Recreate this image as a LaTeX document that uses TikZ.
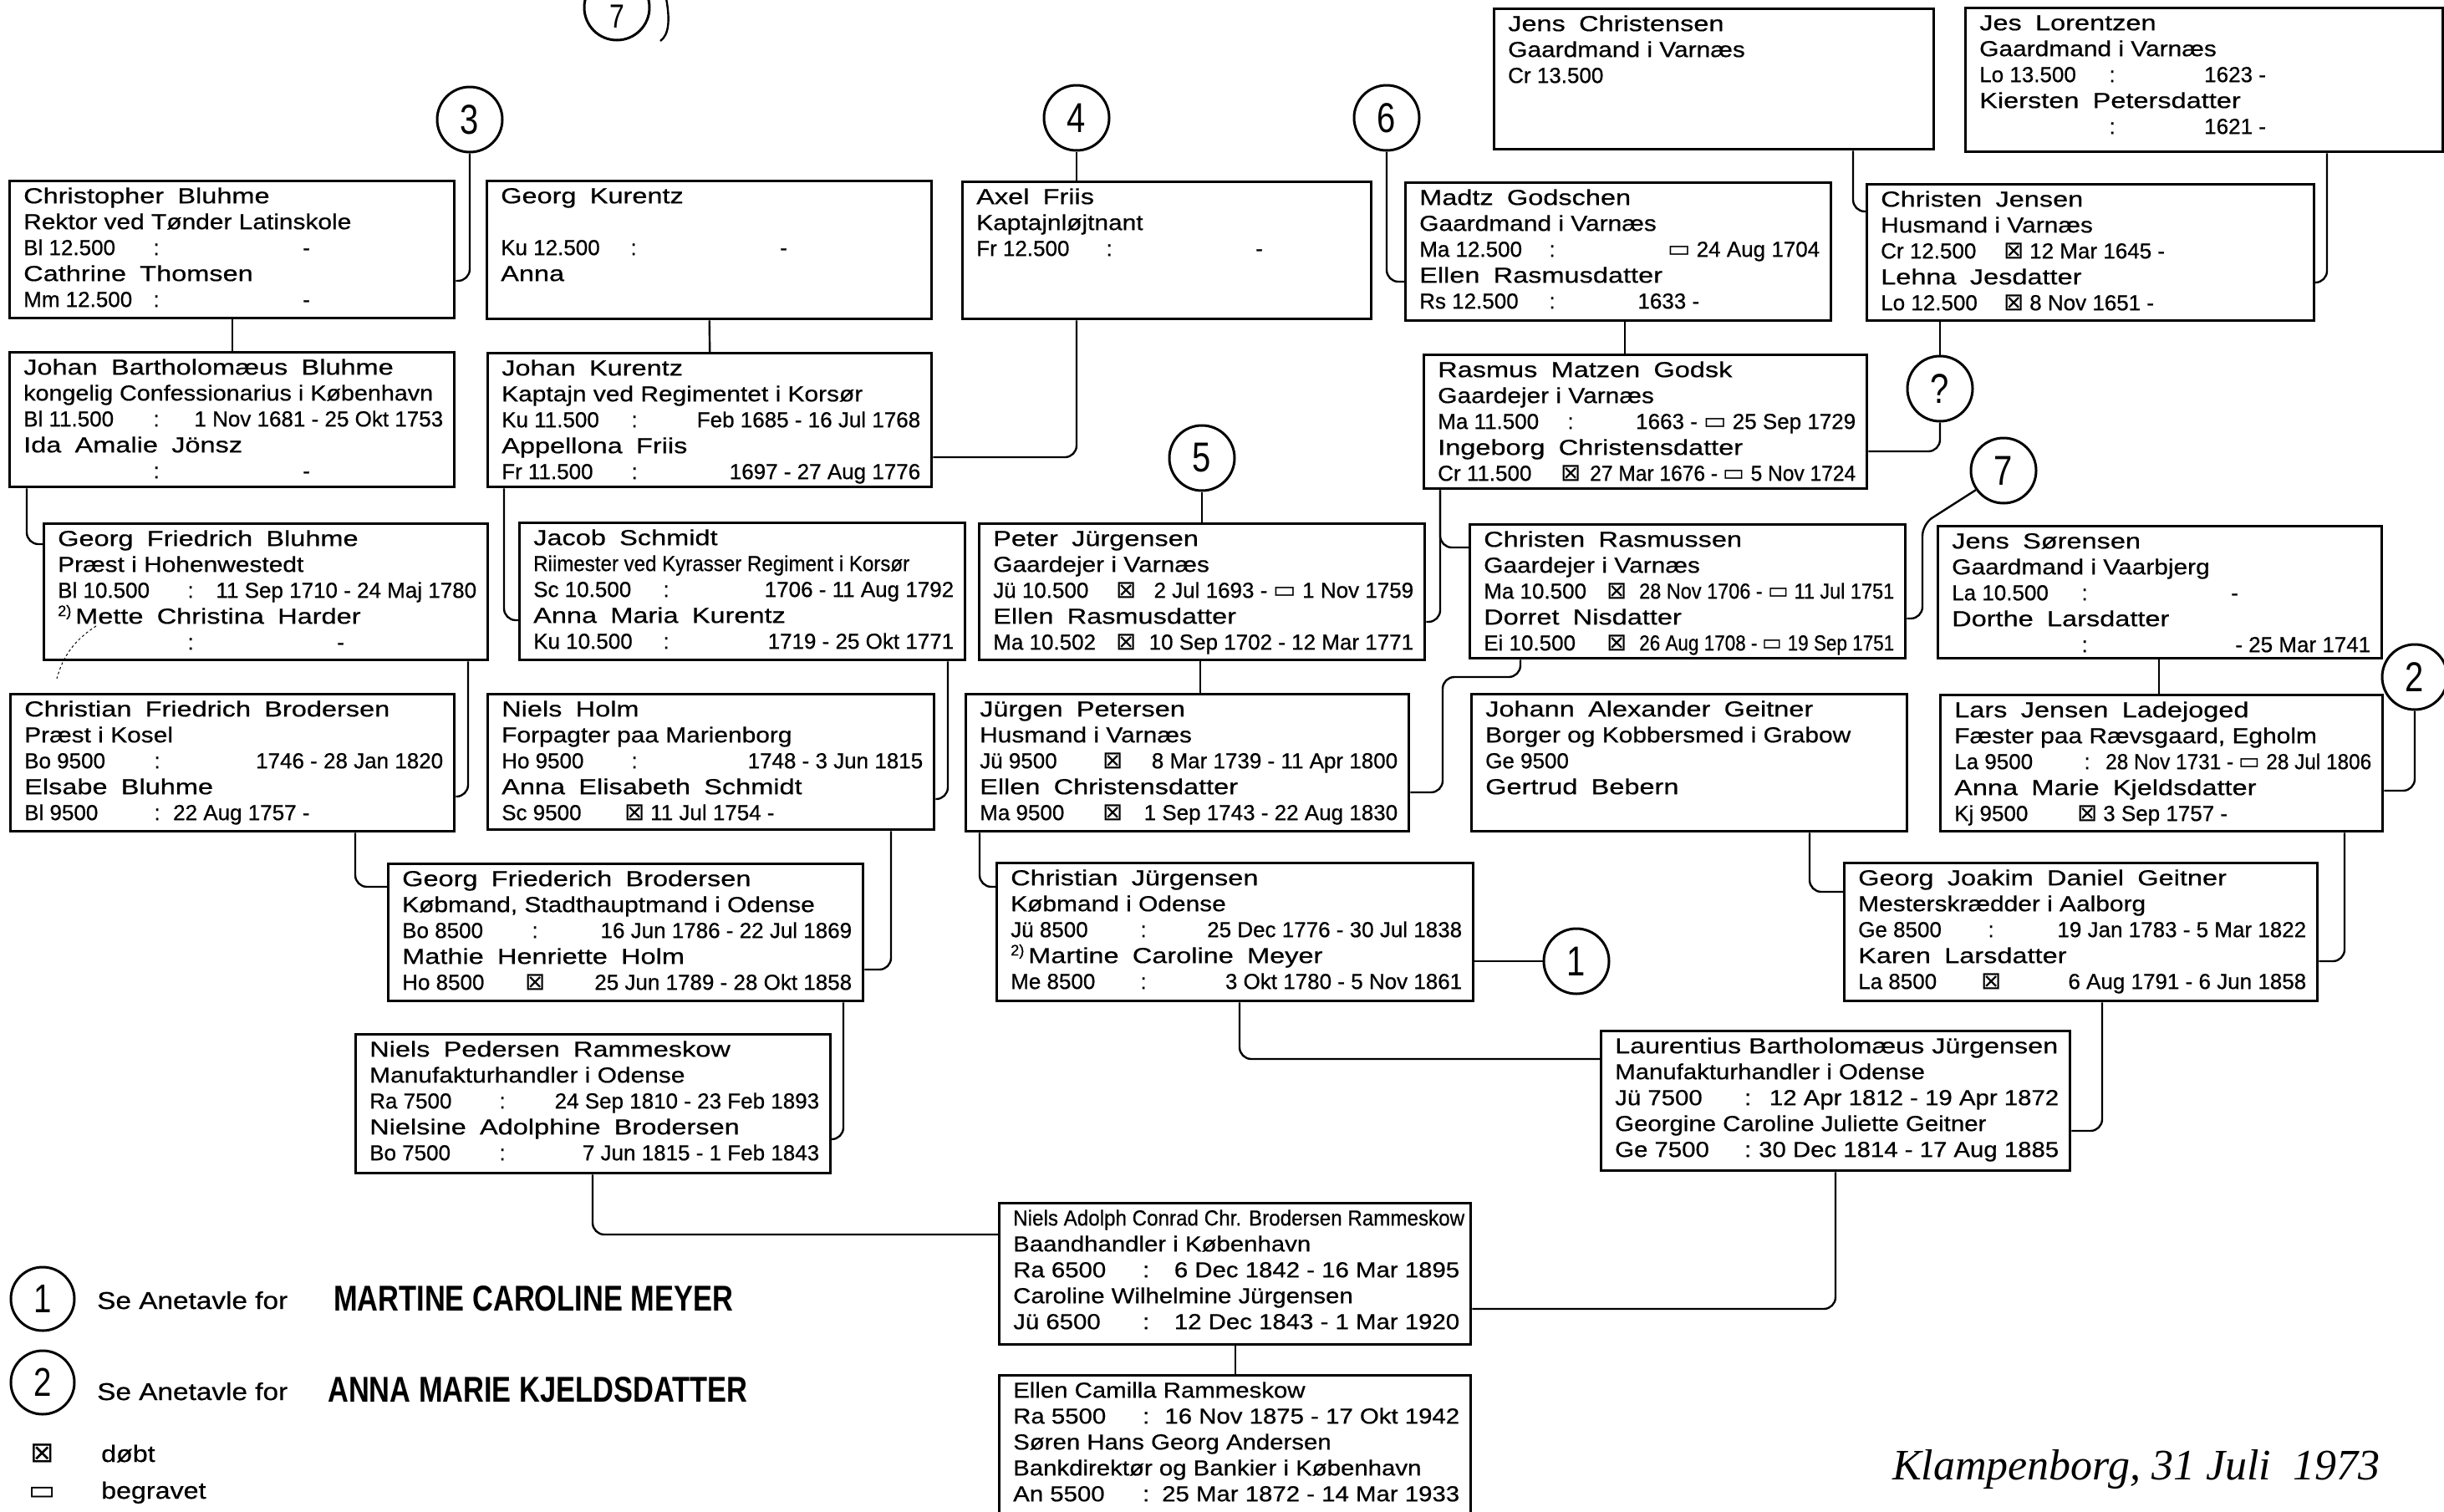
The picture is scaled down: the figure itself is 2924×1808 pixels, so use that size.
\documentclass[tikz,border=0pt]{standalone}
\usepackage{fontspec}
\usepackage{graphicx}
\setmainfont[FakeBold=0.6]{Liberation Sans}
\newfontfamily\nmfont[FakeStretch=1.25,WordSpace=1.8,FakeBold=0.6]{Liberation Sans}
\newfontfamily\ocfont[FakeStretch=1.15,FakeBold=0.6]{Liberation Sans}
\newfontfamily\wdfont[FakeStretch=1.13,FakeBold=0.6]{Liberation Sans}
\newfontfamily\legfont[FakeStretch=0.8]{Liberation Sans}
\newfontfamily\symf{DejaVu Sans}
\newfontfamily\scriptf{Liberation Serif}
\newlength\dw
\newsavebox\rbox
\newcommand\nm[1]{{\nmfont #1}}
\newcommand\oc[1]{{\ocfont #1}}
\newcommand\bap{{\symf\fontsize{29}{29}\selectfont ⊠}}
\newcommand\bur{{\symf\fontsize{29}{29}\selectfont ▭}}
\newcommand\dlr[3]{\sbox\rbox{#3}%
  \ifdim\wd\rbox>\dimexpr\dw-172pt\relax
    \sbox\rbox{\resizebox{\dimexpr\dw-172pt\relax}{\height}{#3}}\fi
  \makebox[\dw][l]{\makebox[150pt][l]{#1}\makebox[18pt][c]{#2}\hfill\usebox\rbox}}
\newcommand\dlf[3]{\makebox[150pt][l]{#1}\makebox[18pt][c]{#2}\hspace{10pt}#3}
\newcommand\fitw[2]{\resizebox{#1pt}{\height}{#2}}
\tikzset{
  pbox/.style={rectangle, draw, line width=3.4pt, anchor=north west, inner sep=0pt},
  ptext/.style={anchor=north west, inner sep=0pt, align=left,
    execute at begin node={\global\dw=#1pt\global\advance\dw by -30pt}},
  conn/.style={line width=2.4pt, rounded corners=14pt},
  circ/.style={circle, draw, line width=3pt, minimum size=78pt, inner sep=0pt,
    font=\legfont\fontsize{50}{50}\selectfont},
}
\newcommand\famnode[7]{%
  \node[pbox, minimum width=#4pt, minimum height=#5pt] (#1) at (#2,#3) {};
  \node[ptext=#4, font={#6\fontsize{26}{31}\selectfont}] (#1-t)
     at ([shift={(18pt,-9pt)}]#1.north west) {\rule{0pt}{19pt}#7};
}
\begin{document}
\begin{tikzpicture}[x=1pt,y=-1pt]
\fill[white] (0,0) rectangle (2924,1808);
\useasboundingbox (0,0) rectangle (2924,1808);

% ---------- boxes ----------
\famnode{cb}{10}{215}{532}{164}{}{\nm{Christopher Bluhme}\\ \oc{Rektor ved Tønder Latinskole}\\ \dlf{Bl 12.500}{:}{\hspace{6em}-}\\ \nm{Cathrine Thomsen}\\ \dlf{Mm 12.500}{:}{\hspace{6em}-}}
\famnode{jbb}{10}{420}{532}{161}{}{\nm{Johan Bartholomæus Bluhme}\\ \fitw{490}{\oc{kongelig Confessionarius i København}}\\ \dlr{Bl 11.500}{:}{1 Nov 1681 - 25 Okt 1753}\\ \nm{Ida Amalie Jönsz}\\ \dlf{}{:}{\hspace{6em}-}}
\famnode{gk}{581}{215}{532}{165}{}{\nm{Georg Kurentz}\\ \mbox{}\\ \dlf{Ku 12.500}{:}{\hspace{6em}-}\\ \nm{Anna}}
\famnode{jk}{582}{421}{531}{160}{}{\nm{Johan Kurentz}\\ \oc{Kaptajn ved Regimentet i Korsør}\\ \dlr{Ku 11.500}{:}{Feb 1685 - 16 Jul 1768}\\ \nm{Appellona Friis}\\ \dlr{Fr 11.500}{:}{1697 - 27 Aug 1776}}
\famnode{af}{1150}{216}{489}{164}{}{\nm{Axel Friis}\\ \oc{Kaptajnløjtnant}\\ \dlf{Fr 12.500}{:}{\hspace{6em}-}}
\famnode{mg}{1680}{217}{509}{165}{}{\nm{Madtz Godschen}\\ \oc{Gaardmand i Varnæs}\\ \dlr{Ma 12.500}{:}{\bur\ 24 Aug 1704}\\ \nm{Ellen Rasmusdatter}\\ \dlf{Rs 12.500}{:}{\hspace{3.2em}1633 -}}
\famnode{jc}{1786}{9}{526}{168}{}{\nm{Jens Christensen}\\ \oc{Gaardmand i Varnæs}\\ Cr 13.500}
\famnode{jl}{2350}{8}{571}{172}{}{\nm{Jes Lorentzen}\\ \oc{Gaardmand i Varnæs}\\ \dlf{Lo 13.500}{:}{\hspace{3.5em}1623 -}\\ \nm{Kiersten Petersdatter}\\ \dlf{}{:}{\hspace{3.5em}1621 -}}
\famnode{cj}{2232}{219}{535}{163}{}{\nm{Christen Jensen}\\ \oc{Husmand i Varnæs}\\ \dlf{Cr 12.500}{\bap}{12 Mar 1645 -}\\ \nm{Lehna Jesdatter}\\ \dlf{Lo 12.500}{\bap}{8 Nov 1651 -}}
\famnode{rm}{1702}{423}{530}{160}{}{\nm{Rasmus Matzen Godsk}\\ \oc{Gaardejer i Varnæs}\\ \dlr{Ma 11.500}{:}{1663 - \bur\ 25 Sep 1729}\\ \nm{Ingeborg Christensdatter}\\ \dlr{Cr 11.500}{\bap}{\fitw{318}{27 Mar 1676 - \bur\ 5 Nov 1724}}}
\famnode{gfb}{51}{625}{531}{163}{}{\nm{Georg Friedrich Bluhme}\\ \oc{Præst i Hohenwestedt}\\ \dlr{Bl 10.500}{:}{11 Sep 1710 - 24 Maj 1780}\\ \textsuperscript{2)}\,\nm{Mette Christina Harder}\\ \dlf{}{:}{\hspace{6em}-}}
\famnode{js}{620}{624}{533}{164}{}{\nm{Jacob Schmidt}\\ \fitw{450}{\oc{Riimester ved Kyrasser Regiment i Korsør}}\\ \dlr{Sc 10.500}{:}{1706 - 11 Aug 1792}\\ \nm{Anna Maria Kurentz}\\ \dlr{Ku 10.500}{:}{1719 - 25 Okt 1771}}
\famnode{pj}{1170}{625}{533}{163}{}{\nm{Peter Jürgensen}\\ \oc{Gaardejer i Varnæs}\\ \dlr{Jü 10.500}{\bap}{2 Jul 1693 - \bur\ 1 Nov 1759}\\ \nm{Ellen Rasmusdatter}\\ \dlr{Ma 10.502}{\bap}{10 Sep 1702 - 12 Mar 1771}}
\famnode{cr}{1757}{626}{521}{160}{}{\nm{Christen Rasmussen}\\ \oc{Gaardejer i Varnæs}\\ \dlr{Ma 10.500}{\bap}{\fitw{305}{28 Nov 1706 - \bur\ 11 Jul 1751}}\\ \nm{Dorret Nisdatter}\\ \dlr{Ei 10.500}{\bap}{\fitw{305}{26 Aug 1708 - \bur\ 19 Sep 1751}}}
\famnode{jso}{2317}{628}{531}{158}{}{\nm{Jens Sørensen}\\ \oc{Gaardmand i Vaarbjerg}\\ \dlf{La 10.500}{:}{\hspace{6em}-}\\ \nm{Dorthe Larsdatter}\\ \dlr{}{:}{- 25 Mar 1741}}
\famnode{cfb}{11}{829}{531}{164}{}{\nm{Christian Friedrich Brodersen}\\ \oc{Præst i Kosel}\\ \dlr{Bo 9500}{:}{1746 - 28 Jan 1820}\\ \nm{Elsabe Bluhme}\\ \dlf{Bl 9500}{:}{22 Aug 1757 -}}
\famnode{nh}{582}{829}{534}{162}{}{\nm{Niels Holm}\\ \oc{Forpagter paa Marienborg}\\ \dlr{Ho 9500}{:}{1748 - 3 Jun 1815}\\ \nm{Anna Elisabeth Schmidt}\\ \dlf{Sc 9500}{\bap}{11 Jul 1754 -}}
\famnode{jp}{1154}{829}{530}{164}{}{\nm{Jürgen Petersen}\\ \oc{Husmand i Varnæs}\\ \dlr{Jü 9500}{\bap}{8 Mar 1739 - 11 Apr 1800}\\ \nm{Ellen Christensdatter}\\ \dlr{Ma 9500}{\bap}{1 Sep 1743 - 22 Aug 1830}}
\famnode{jag}{1759}{829}{521}{164}{}{\nm{Johann Alexander Geitner}\\ \oc{Borger og Kobbersmed i Grabow}\\ Ge 9500\\ \nm{Gertrud Bebern}}
\famnode{ljl}{2320}{830}{529}{163}{}{\nm{Lars Jensen Ladejoged}\\ \oc{Fæster paa Rævsgaard, Egholm}\\ \dlr{La 9500}{:}{\fitw{318}{28 Nov 1731 - \bur\ 28 Jul 1806}}\\ \nm{Anna Marie Kjeldsdatter}\\ \dlf{Kj 9500}{\bap}{3 Sep 1757 -}}
\famnode{gfbr}{463}{1032}{568}{164}{}{\nm{Georg Friederich Brodersen}\\ \oc{Købmand, Stadthauptmand i Odense}\\ \dlr{Bo 8500}{:}{16 Jun 1786 - 22 Jul 1869}\\ \nm{Mathie Henriette Holm}\\ \dlr{Ho 8500}{\bap}{25 Jun 1789 - 28 Okt 1858}}
\famnode{chj}{1191}{1031}{570}{165}{}{\nm{Christian Jürgensen}\\ \oc{Købmand i Odense}\\ \dlr{Jü 8500}{:}{25 Dec 1776 - 30 Jul 1838}\\ \textsuperscript{2)}\,\nm{Martine Caroline Meyer}\\ \dlr{Me 8500}{:}{3 Okt 1780 - 5 Nov 1861}}
\famnode{gjd}{2205}{1031}{566}{165}{}{\nm{Georg Joakim Daniel Geitner}\\ \oc{Mesterskrædder i Aalborg}\\ \dlr{Ge 8500}{:}{19 Jan 1783 - 5 Mar 1822}\\ \nm{Karen Larsdatter}\\ \dlr{La 8500}{\bap}{6 Aug 1791 - 6 Jun 1858}}
\famnode{npr}{424}{1236}{568}{166}{}{\nm{Niels Pedersen Rammeskow}\\ \oc{Manufakturhandler i Odense}\\ \dlr{Ra 7500}{:}{24 Sep 1810 - 23 Feb 1893}\\ \nm{Nielsine Adolphine Brodersen}\\ \dlr{Bo 7500}{:}{7 Jun 1815 - 1 Feb 1843}}
\famnode{lbj}{1914}{1232}{561}{167}{\wdfont}{\fitw{530}{Laurentius Bartholomæus Jürgensen}\\ Manufakturhandler i Odense\\ \dlr{Jü 7500}{:}{12 Apr 1812 - 19 Apr 1872}\\ Georgine Caroline Juliette Geitner\\ \dlr{Ge 7500}{:}{30 Dec 1814 - 17 Aug 1885}}
\famnode{nac}{1194}{1438}{564}{169}{\wdfont}{\fitw{540}{Niels Adolph Conrad Chr. Brodersen Rammeskow}\\ Baandhandler i København\\ \dlr{Ra 6500}{:}{6 Dec 1842 - 16 Mar 1895}\\ Caroline Wilhelmine Jürgensen\\ \dlr{Jü 6500}{:}{12 Dec 1843 - 1 Mar 1920}}
\famnode{ecr}{1194}{1644}{564}{180}{\wdfont}{Ellen Camilla Rammeskow\\ \dlr{Ra 5500}{:}{16 Nov 1875 - 17 Okt 1942}\\ Søren Hans Georg Andersen\\ Bankdirektør og Bankier i København\\ \dlr{An 5500}{:}{25 Mar 1872 - 14 Mar 1933}}

% ---------- circles ----------
\node[circ] (ct) at (738,9) {};
\node[inner sep=0pt, font=\legfont\fontsize{40}{40}\selectfont] (ctd) at (738,20) {7};
\node[circ] (c3) at (562,143) {3};
\node[circ] (c4) at (1288,141) {4};
\node[circ] (c6) at (1659,141) {6};
\node[circ] (c5) at (1438,548) {5};
\node[circ] (cq) at (2321,465) {?};
\node[circ] (c7) at (2397,563) {7};
\node[circ] (c2) at (2889,810) {2};
\node[circ] (c1) at (1886,1150) {1};
\draw[line width=2.4pt] (797,-2) .. controls (802,25) and (800,42) .. (790,49);

% ---------- connectors ----------
\coordinate (k7) at (2300,627);
\coordinate (k8) at (1726,810);
\draw[conn] (c3.south) |- (cb.east |- 0,336);
\draw[conn] (cb.south) -- (jbb.north);
\draw[conn] (jbb.south west -| 32,0) |- (gfb.west |- 0,651);
\draw[conn] (gk.south) -- (jk.north);
\draw[conn] (jk.south west -| 603,0) |- (js.west |- 0,742);
\draw[conn] (c4.south) -- (c4.south |- af.north);
\draw[conn] (af.south -| c4) |- (jk.east |- 0,547);
\draw[conn] (c6.south) |- (mg.west |- 0,337);
\draw[conn] (mg.south -| 1944,0) -- (rm.north -| 1944,0);
\draw[conn] (jc.south -| 2217,0) |- (cj.west |- 0,253);
\draw[conn] (jl.south -| 2784,0) |- (cj.east |- 0,338);
\draw[conn] (cj.south -| cq) -- (cq.north);
\draw[conn] (cq.south) |- (rm.east |- 0,540);
\draw[conn] (rm.south -| 1723,0) |- (pj.east |- 0,744);
\draw[conn] (rm.south -| 1723,0) |- (cr.west |- 0,655);
\draw[conn] (c5.south) -- (pj.north -| c5);
\draw[conn] (pj.south -| 1436,0) -- (jp.north -| 1436,0);
\draw[conn] (c7.215) -- (k7) |- (cr.east |- 0,740);
\draw[conn] (cr.south -| 1819,0) |- (k8) |- (jp.east |- 0,948);
\draw[conn] (jso.south -| 2583,0) -- (ljl.north -| 2583,0);
\draw[conn] (c2.south) |- (ljl.east |- 0,946);
\draw[conn] (ljl.south -| 2805,0) |- (gjd.east |- 0,1150);
\draw[conn] (jag.south -| 2165,0) |- (gjd.west |- 0,1067);
\draw[conn] (gfb.south -| 560,0) |- (cfb.east |- 0,953);
\draw[conn] (js.south -| 1134,0) |- (nh.east |- 0,956);
\draw[conn] (cfb.south -| 425,0) |- (gfbr.west |- 0,1061);
\draw[conn] (nh.south -| 1066,0) |- (gfbr.east |- 0,1160);
\draw[conn] (jp.south -| 1172,0) |- (chj.west |- 0,1061);
\draw[conn] (chj.east |- c1) -- (c1.west);
\draw[conn] (chj.south -| 1483,0) |- (lbj.west |- 0,1267);
\draw[conn] (gjd.south -| 2515,0) |- (lbj.east |- 0,1353);
\draw[conn] (gfbr.south -| 1009,0) |- (npr.east |- 0,1363);
\draw[conn] (npr.south -| 709,0) |- (nac.west |- 0,1477);
\draw[conn] (lbj.south -| 2196,0) |- (nac.east |- 0,1566);
\draw[conn] (nac.south) -- (ecr.north);
\draw[line width=1pt, dashed] (115,749) .. controls (90,765) and (75,785) .. (68,812);

% ---------- legend ----------
\node[circ, minimum size=76pt, font=\legfont\fontsize{48}{48}\selectfont] (l1) at (51,1554) {1};
\node[anchor=base west, inner sep=0pt, font=\ocfont\fontsize{29}{29}\selectfont] (l1a) at (116,1566) {Se Anetavle for};
\node[anchor=base west, inner sep=0pt, font=\legfont\bfseries\fontsize{43}{43}\selectfont] (l1b) at (399,1568) {MARTINE CAROLINE MEYER};
\node[circ, minimum size=76pt, font=\legfont\fontsize{48}{48}\selectfont] (l2) at (51,1654) {2};
\node[anchor=base west, inner sep=0pt, font=\ocfont\fontsize{29}{29}\selectfont] (l2a) at (116,1675) {Se Anetavle for};
\node[anchor=base west, inner sep=0pt, font=\legfont\bfseries\fontsize{43}{43}\selectfont] (l2b) at (392,1677) {ANNA MARIE KJELDSDATTER};
\node[inner sep=0pt, font=\symf\fontsize{34}{34}\selectfont] (ls1) at (51,1739) {⊠};
\node[anchor=base west, inner sep=0pt, font=\ocfont\fontsize{28}{28}\selectfont] (ls1t) at (121,1749) {døbt};
\node[inner sep=0pt, font=\symf\fontsize{34}{34}\selectfont] (ls2) at (51,1787) {▭};
\node[anchor=base west, inner sep=0pt, font=\ocfont\fontsize{28}{28}\selectfont] (ls2t) at (121,1793) {begravet};
\node[anchor=base west, inner sep=0pt, font=\scriptf\itshape\fontsize{52}{52}\selectfont] (sig) at (2264,1770) {Klampenborg, 31 Juli\ \ 1973};
\end{tikzpicture}
\end{document}
